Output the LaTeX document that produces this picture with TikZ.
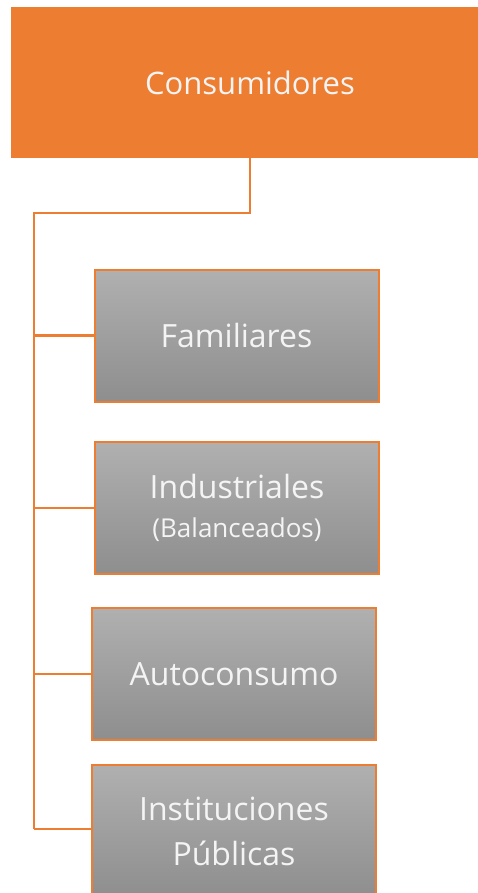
\documentclass[tikz,border=0pt]{standalone}
\usepackage{fontspec}
\setmainfont{Open Sans}
\definecolor{naranja}{HTML}{ED7D31}
\definecolor{grisarriba}{HTML}{B0B0B0}
\definecolor{grisabajo}{HTML}{8E8E8E}
\definecolor{blanco}{HTML}{F4F4F4}

\begin{document}
\begin{tikzpicture}[x=1pt,y=-1pt,
  raiz/.style={fill=naranja,text=blanco,minimum width=478pt,minimum height=151pt,
    inner sep=0pt,font=\fontsize{31}{36}\selectfont},
  hoja/.style={draw=naranja,line width=2pt,top color=grisarriba,bottom color=grisabajo,
    text=blanco,minimum width=284pt,minimum height=132pt,inner sep=0pt,align=center,
    font=\fontsize{32}{45}\selectfont},
  rama/.style={draw=naranja,line width=2.5pt}]
\useasboundingbox (0,0) rectangle (478,893);
\node[raiz] (cons) at (250,82.5) {Consumidores};
\node[hoja] (fam) at (236.5,335.5) {Familiares};
\node[hoja] (ind) at (237,508) {Industriales\\[-6pt]{\fontsize{26}{30}\selectfont(Balanceados)}};
\node[hoja] (auto) at (234,674) {Autoconsumo};
\node[hoja] (inst) at (234,831) {Instituciones\\Públicas};
\coordinate (bus) at (34,213);
\coordinate (busfin) at (34,829);
\draw[rama] (cons.south) |- (bus) -- (busfin);
\draw[rama] (bus |- fam.west) -- (fam.west);
\draw[rama] (bus |- ind.west) -- (ind.west);
\draw[rama] (bus |- auto.west) -- (auto.west);
\draw[rama] (busfin) -- (busfin -| inst.west);
\end{tikzpicture}
\end{document}
